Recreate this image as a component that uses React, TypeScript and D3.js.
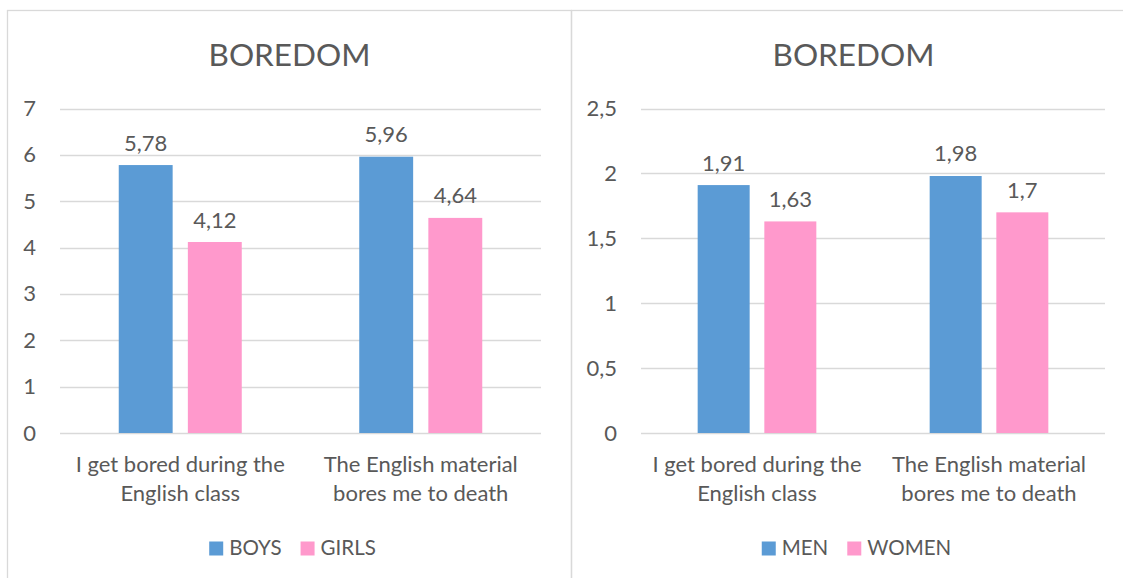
import React, { useEffect, useRef } from 'react';
import * as d3 from 'd3';

// category labels, already split into the two lines shown under the axis
const categories = ['I get bored during the English class', 'The English material bores me to death'];
const categoryLines = [
    ['I get bored during the', 'English class'],
    ['The English material', 'bores me to death'],
];

const studentSeries = ['BOYS', 'GIRLS'];
const boysValues = [5.78, 5.96];
const girlsValues = [4.12, 4.64];
const studentTicks = [0, 1, 2, 3, 4, 5, 6, 7];

const adultSeries = ['MEN', 'WOMEN'];
const menValues = [1.91, 1.98];
const womenValues = [1.63, 1.7];
const adultTicks = [0, 0.5, 1, 1.5, 2, 2.5];

const seriesColors = ['#5B9BD5', '#FF99CC'];

const WIDTH = 1123;
const HEIGHT = 578;
const FONT = 'Lato, "Noto Sans", sans-serif';
const TEXT = '#595959';
const GRID = '#D9D9D9';

// european decimal comma
const locale = d3.formatLocale({ decimal: ',', thousands: '.', grouping: [3], currency: ['', ''] });
const fmt = locale.format('~g');

interface PanelSpec {
    left: number;
    width: number;
    plotX: [number, number];
    title: string;
    series: string[];
    values: number[][];
    ticks: number[];
}

const panels: PanelSpec[] = [
    { left: 7.5, width: 564, plotX: [60, 541], title: 'BOREDOM', series: studentSeries, values: [boysValues, girlsValues], ticks: studentTicks },
    { left: 571.5, width: 564, plotX: [641, 1105], title: 'BOREDOM', series: adultSeries, values: [menValues, womenValues], ticks: adultTicks },
];

export default function App() {
    const svgRef = useRef<SVGSVGElement>(null);

    useEffect(() => {
        if (!svgRef.current) return;
        const svg = d3.select(svgRef.current);
        svg.selectAll('*').remove();

        svg.append('rect').attr('width', WIDTH).attr('height', HEIGHT).attr('fill', 'white');

        panels.forEach(p => {
            const g = svg.append('g').style('font-family', FONT);

            // chart frame (runs past the bottom of the picture)
            g.append('rect')
                .attr('x', p.left)
                .attr('y', 10.5)
                .attr('width', p.width)
                .attr('height', 700)
                .attr('fill', 'none')
                .attr('stroke', GRID)
                .attr('stroke-width', 1.3);

            const cx = p.left + p.width / 2;

            g.append('text')
                .attr('x', cx)
                .attr('y', 66)
                .attr('text-anchor', 'middle')
                .attr('fill', TEXT)
                .style('font-size', '31.5px')
                .text(p.title);

            const y = d3.scaleLinear()
                .domain([0, d3.max(p.ticks) as number])
                .range([433, 108.5]);

            const x0 = d3.scaleBand<string>()
                .domain(categories)
                .range(p.plotX)
                .padding(0);

            const x1 = d3.scaleBand<string>()
                .domain(p.series)
                .range([0, x0.bandwidth()])
                .paddingInner(0.22)
                .paddingOuter(0.85);

            // gridlines + tick labels
            g.append('g')
                .selectAll('line')
                .data(p.ticks)
                .join('line')
                .attr('x1', p.plotX[0])
                .attr('x2', p.plotX[1])
                .attr('y1', d => Math.round(y(d)) + 0.5)
                .attr('y2', d => Math.round(y(d)) + 0.5)
                .attr('stroke', GRID)
                .attr('stroke-width', 1.5);

            g.append('g')
                .selectAll('text')
                .data(p.ticks)
                .join('text')
                .attr('x', p.plotX[0] - 24)
                .attr('y', d => y(d) + 7.5)
                .attr('text-anchor', 'end')
                .attr('fill', TEXT)
                .style('font-size', '22px')
                .text(d => fmt(d));

            // bars
            const cells = categories.flatMap((c, ci) =>
                p.series.map((s, si) => ({ c, s, si, v: p.values[si][ci] })));

            g.append('g')
                .selectAll('rect')
                .data(cells)
                .join('rect')
                .attr('x', d => (x0(d.c) as number) + (x1(d.s) as number))
                .attr('y', d => y(d.v))
                .attr('width', x1.bandwidth())
                .attr('height', d => y(0) - y(d.v))
                .attr('fill', d => seriesColors[d.si]);

            g.append('g')
                .selectAll('text')
                .data(cells)
                .join('text')
                .attr('x', d => (x0(d.c) as number) + (x1(d.s) as number) + x1.bandwidth() / 2)
                .attr('y', d => y(d.v) - 14.5)
                .attr('text-anchor', 'middle')
                .attr('fill', TEXT)
                .style('font-size', '22px')
                .text(d => fmt(d.v));

            // category labels
            categories.forEach((c, ci) => {
                const t = g.append('text')
                    .attr('text-anchor', 'middle')
                    .attr('fill', TEXT)
                    .style('font-size', '22px');
                categoryLines[ci].forEach((line, li) => {
                    t.append('tspan')
                        .attr('x', (x0(c) as number) + x0.bandwidth() / 2)
                        .attr('y', 472 + li * 29)
                        .text(line);
                });
            });

            // legend, centred under the chart
            const legend = g.append('g');
            let pos = 0;
            p.series.forEach((s, si) => {
                legend.append('rect')
                    .attr('x', pos)
                    .attr('y', 541.5)
                    .attr('width', 14)
                    .attr('height', 14)
                    .attr('fill', seriesColors[si]);
                const label = legend.append('text')
                    .attr('x', pos + 20)
                    .attr('y', 555)
                    .attr('fill', TEXT)
                    .style('font-size', '20.5px')
                    .text(s);
                const w = (label.node() as SVGTextElement).getComputedTextLength();
                pos += 20 + w + 19;
            });
            const total = pos - 19;
            legend.attr('transform', `translate(${cx + 3 - total / 2},0)`);
        });
    }, []);

    return (
        <div style={{ position: 'absolute', left: 0, top: 0 }}>
            <svg ref={svgRef} width={WIDTH} height={HEIGHT}></svg>
        </div>
    );
}
